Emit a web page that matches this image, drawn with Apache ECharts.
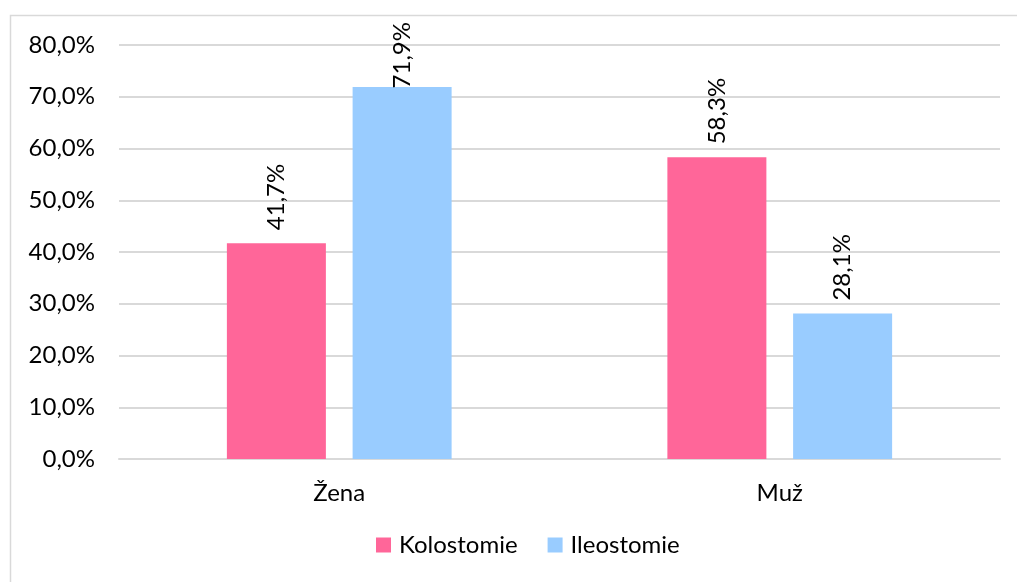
<!DOCTYPE html>
<html><head><meta charset="utf-8">
<script src="https://cdn.jsdelivr.net/npm/echarts@6/dist/echarts.min.js"></script>
<style>html,body{margin:0;padding:0;background:#fff}#c{width:1017px;height:582px}</style>
</head><body><div id="c"></div>
<script>
const categories = ['Žena', 'Muž'];
const kolostomie = [41.7, 58.3];
const ileostomie = [71.9, 28.1];
const seriesNames = ['Kolostomie', 'Ileostomie'];
const FONT = 'Lato';
const fmt = v => v.toFixed(1).replace('.', ',') + '%';
const chart = echarts.init(document.getElementById('c'));
const lbl = {
  show: true, position: 'top', rotate: 90, distance: 13,
  align: 'left', verticalAlign: 'middle',
  color: '#000', fontFamily: FONT, fontSize: 24,
  formatter: p => fmt(p.value)
};
const TOP_LIMIT = 22;
chart.setOption({
  animation: false,
  graphic: [{type: 'rect', shape: {x: 10.5, y: 15.5, width: 1020, height: 580}, style: {fill: 'none', stroke: '#d9d9d9', lineWidth: 1.5}, z: -1}],
  grid: {left: 119, right: 17, top: 45, bottom: 123},
  legend: {
    data: seriesNames, bottom: 20, left: 371, icon: 'rect', itemWidth: 15, itemHeight: 15, itemGap: 30,
    textStyle: {fontFamily: FONT, fontSize: 24, color: '#000', padding: [0, 0, 0, 3]}
  },
  xAxis: {
    type: 'category', data: categories,
    axisLine: {lineStyle: {color: '#d9d9d9', width: 2}}, axisTick: {show: false},
    axisLabel: {fontFamily: FONT, fontSize: 24, color: '#000', margin: 22}
  },
  yAxis: {
    type: 'value', min: 0, max: 80, interval: 10,
    axisLine: {show: false}, axisTick: {show: false},
    splitLine: {lineStyle: {color: '#d9d9d9', width: 2}},
    axisLabel: {fontFamily: FONT, fontSize: 24, color: '#000', margin: 24, formatter: v => fmt(v)}
  },
  series: [
    {name: seriesNames[0], type: 'bar', data: kolostomie, barWidth: 99, barGap: '27%', itemStyle: {color: '#FF6699'}, label: lbl},
    {name: seriesNames[1], type: 'bar', data: ileostomie, barWidth: 99, itemStyle: {color: '#99CCFF'}, label: lbl,
     labelLayout: p => (p.labelRect.y < TOP_LIMIT ? {dx: -(TOP_LIMIT - p.labelRect.y)} : {})}
  ]
});
</script></body></html>
